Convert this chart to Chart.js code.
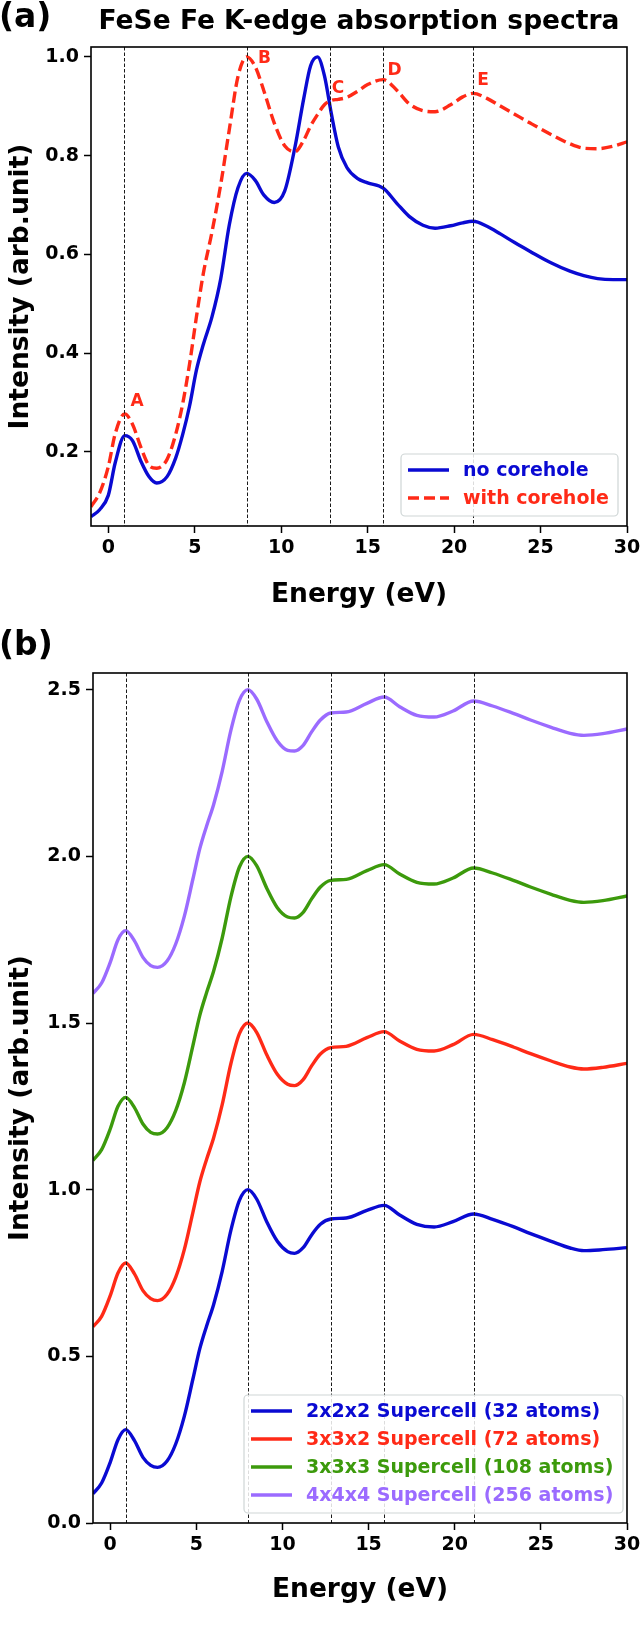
<!DOCTYPE html>
<html>
<head>
<meta charset="utf-8">
<title>FeSe Fe K-edge absorption spectra</title>
<script src="https://cdn.jsdelivr.net/npm/chart.js@4.4.1/dist/chart.umd.min.js"></script>
<style>
  body { margin: 0; background: #fff; }
  canvas { position: absolute; left: 0; }
  #chartA { top: 0; }
  #chartB { top: 620px; }
</style>
</head>
<body>
<canvas id="chartA" width="640" height="620"></canvas>
<canvas id="chartB" width="640" height="1014"></canvas>
<script>
// ---- panel (a): corehole comparison ----
const energyA = [-1, -0.5, 0, 0.4, 0.95, 1.4, 1.9, 2.35, 2.8, 3.4, 3.9, 4.3, 4.7, 5.1, 5.5, 6.0, 6.5, 7.0, 7.5, 8.0,
  8.5, 9.0, 9.6, 10.2, 10.8, 11.3, 11.7, 12.1, 12.5, 12.9, 13.3, 13.8, 14.4, 15.0, 15.9, 16.7, 17.4, 18.2, 18.9,
  19.8, 20.5, 21.1, 21.9, 22.7, 23.5, 24.4, 25.6, 26.7, 27.5, 28.3, 29.2, 30];
const noCorehole = [0.069, 0.083, 0.112, 0.178, 0.233, 0.223, 0.180, 0.150, 0.137, 0.150, 0.188, 0.235, 0.293, 0.366,
  0.418, 0.474, 0.550, 0.660, 0.735, 0.764, 0.750, 0.720, 0.705, 0.728, 0.818, 0.915, 0.982, 1.000, 0.962, 0.885,
  0.818, 0.776, 0.754, 0.745, 0.734, 0.703, 0.677, 0.659, 0.653, 0.658, 0.664, 0.667, 0.657, 0.641, 0.624, 0.606,
  0.583, 0.566, 0.557, 0.551, 0.549, 0.549];
const withCorehole = [0.089, 0.117, 0.170, 0.237, 0.277, 0.256, 0.208, 0.173, 0.167, 0.185, 0.236, 0.297, 0.378, 0.474,
  0.562, 0.646, 0.741, 0.853, 0.960, 1.000, 0.980, 0.931, 0.866, 0.820, 0.808, 0.831, 0.860, 0.883, 0.903, 0.912,
  0.914, 0.918, 0.930, 0.944, 0.954, 0.932, 0.905, 0.891, 0.889, 0.903, 0.919, 0.926, 0.916, 0.900, 0.884, 0.866,
  0.843, 0.824, 0.815, 0.814, 0.819, 0.828];
const seriesA = ['no corehole', 'with corehole'];
const peakLetters = ['A', 'B', 'C', 'D', 'E'];
const peakLetterX = [1.66, 9.03, 13.29, 16.56, 21.67];
const peakLetterY = [0.302, 0.997, 0.936, 0.972, 0.951];
const yTicksA = [0.2, 0.4, 0.6, 0.8, 1.0];

// ---- panel (b): supercell size comparison ----
const energyB = [-1, -0.5, 0, 0.45, 0.9, 1.4, 1.9, 2.35, 2.75, 3.3, 3.8, 4.3, 4.8, 5.2, 5.6, 6.0, 6.5, 7.0, 7.5, 8.0,
  8.5, 9.1, 9.7, 10.3, 10.7, 11.2, 11.7, 12.2, 12.8, 13.7, 14.9, 15.9, 16.8, 17.8, 18.8, 19.9, 21.1, 22.2, 23.4,
  24.4, 25.6, 26.7, 27.5, 28.6, 30];
const cell222 = [0.088, 0.120, 0.182, 0.250, 0.280, 0.248, 0.197, 0.173, 0.167, 0.186, 0.237, 0.320, 0.432, 0.523,
  0.592, 0.655, 0.755, 0.877, 0.968, 1.000, 0.972, 0.902, 0.845, 0.814, 0.809, 0.826, 0.865, 0.896, 0.912, 0.915,
  0.938, 0.953, 0.924, 0.896, 0.888, 0.904, 0.927, 0.911, 0.889, 0.868, 0.845, 0.825, 0.817, 0.820, 0.826];
const cell332 = [0.589, 0.620, 0.682, 0.750, 0.780, 0.748, 0.697, 0.673, 0.667, 0.686, 0.737, 0.820, 0.932, 1.023,
  1.092, 1.155, 1.255, 1.377, 1.468, 1.500, 1.472, 1.403, 1.346, 1.316, 1.312, 1.330, 1.372, 1.407, 1.426, 1.430,
  1.456, 1.474, 1.446, 1.421, 1.416, 1.435, 1.466, 1.450, 1.428, 1.408, 1.386, 1.368, 1.362, 1.367, 1.379];
const cell333 = [1.088, 1.120, 1.182, 1.250, 1.277, 1.247, 1.197, 1.172, 1.167, 1.186, 1.237, 1.320, 1.432, 1.523,
  1.592, 1.655, 1.755, 1.877, 1.968, 2.000, 1.972, 1.903, 1.846, 1.818, 1.815, 1.832, 1.873, 1.908, 1.928, 1.931,
  1.957, 1.975, 1.947, 1.922, 1.917, 1.935, 1.965, 1.950, 1.928, 1.908, 1.886, 1.868, 1.862, 1.867, 1.881];
const cell444 = [1.589, 1.620, 1.682, 1.750, 1.777, 1.747, 1.697, 1.672, 1.667, 1.686, 1.737, 1.820, 1.932, 2.023,
  2.092, 2.155, 2.255, 2.377, 2.468, 2.500, 2.472, 2.403, 2.346, 2.318, 2.316, 2.333, 2.374, 2.409, 2.430, 2.433,
  2.459, 2.478, 2.449, 2.423, 2.418, 2.436, 2.466, 2.451, 2.429, 2.409, 2.387, 2.369, 2.363, 2.368, 2.382];
const seriesB = ['2x2x2 Supercell (32 atoms)', '3x3x2 Supercell (72 atoms)',
  '3x3x3 Supercell (108 atoms)', '4x4x4 Supercell (256 atoms)'];
const yTicksB = [0.0, 0.5, 1.0, 1.5, 2.0, 2.5];

// shared
const edgeMarkers = [0.9, 8.0, 12.8, 15.9, 21.1];
const xTicks = [0, 5, 10, 15, 20, 25, 30];

const FONT = '"DejaVu Sans", "Liberation Sans", sans-serif';
const BLUE = '#0a0ad2';
const RED = '#ff2a17';
const GREEN = '#3c9a0c';
const PURPLE = '#9b6bff';

const toPoints = (xs, ys) => xs.map((x, i) => ({ x: x, y: ys[i] }));

// dashed markers, frame, peak letters, legend and panel titles
const panelDecor = {
  id: 'panelDecor',
  afterDraw(chart, args, opts) {
    const ctx = chart.ctx;
    const { left, right, top, bottom } = chart.chartArea;
    const xs = chart.scales.x, ys = chart.scales.y;
    ctx.save();

    ctx.strokeStyle = '#1a1a1a';
    ctx.lineWidth = 1;
    ctx.setLineDash([3.5, 2]);
    opts.markers.forEach(e => {
      const px = Math.round(xs.getPixelForValue(e)) + 0.5;
      ctx.beginPath();
      ctx.moveTo(px, top);
      ctx.lineTo(px, bottom);
      ctx.stroke();
    });
    ctx.setLineDash([]);

    if (opts.letters) {
      ctx.fillStyle = RED;
      ctx.font = 'bold 17px ' + FONT;
      ctx.textAlign = 'center';
      ctx.textBaseline = 'middle';
      opts.letters.text.forEach((t, i) => {
        ctx.fillText(t, xs.getPixelForValue(opts.letters.x[i]), ys.getPixelForValue(opts.letters.y[i]));
      });
    }

    ctx.strokeStyle = '#000';
    ctx.lineWidth = 1.6;
    ctx.strokeRect(left, top, right - left, bottom - top);

    // legend
    const lb = opts.legend;
    ctx.fillStyle = 'rgba(255,255,255,0.85)';
    ctx.strokeStyle = '#cfd6d6';
    ctx.lineWidth = 1.2;
    ctx.beginPath();
    ctx.roundRect(lb.x, lb.y, lb.w, lb.h, 4);
    ctx.fill();
    ctx.stroke();
    ctx.font = 'bold 19px ' + FONT;
    ctx.textAlign = 'left';
    ctx.textBaseline = 'middle';
    chart.data.datasets.forEach((ds, i) => {
      const ry = lb.y + 16 + i * 28;
      ctx.strokeStyle = ds.borderColor;
      ctx.lineWidth = ds.borderWidth;
      ctx.setLineDash(ds.borderDash || []);
      ctx.beginPath();
      ctx.moveTo(lb.x + 7, ry);
      ctx.lineTo(lb.x + 48, ry);
      ctx.stroke();
      ctx.setLineDash([]);
      ctx.fillStyle = ds.borderColor;
      ctx.fillText(ds.label, lb.x + 62, ry + 1);
    });

    // panel label and title
    ctx.fillStyle = '#000';
    ctx.font = 'bold 33px ' + FONT;
    ctx.fillText(opts.panel, -1, opts.panelY);
    if (opts.title) {
      ctx.font = 'bold 26.5px ' + FONT;
      ctx.textAlign = 'center';
      ctx.fillText(opts.title, (left + right) / 2, 22);
    }
    ctx.restore();
  }
};

function axes(yMin, yMax, yTicks, yWidth, xHeight) {
  const tickFont = { family: FONT, size: 19, weight: 'bold' };
  const titleFont = { family: FONT, size: 26.5, weight: 'bold', lineHeight: 1.2 };
  const grid = { display: true, drawOnChartArea: false, drawTicks: true, tickLength: 7, tickColor: '#000', tickWidth: 1.5 };
  return {
    x: {
      type: 'linear', min: -1, max: 30,
      grid: grid, border: { display: false },
      afterBuildTicks: s => { s.ticks = xTicks.map(v => ({ value: v })); },
      afterFit: s => { s.height = xHeight; s.paddingLeft = 0; s.paddingRight = 0; },
      ticks: { font: tickFont, color: '#000', padding: 4, maxRotation: 0, callback: v => String(v) },
      title: { display: true, text: 'Energy (eV)', font: titleFont, color: '#000', padding: { top: 0, bottom: 4 } }
    },
    y: {
      type: 'linear', min: yMin, max: yMax,
      grid: grid, border: { display: false },
      afterBuildTicks: s => { s.ticks = yTicks.map(v => ({ value: v })); },
      afterFit: s => { s.width = yWidth; s.paddingTop = 0; s.paddingBottom = 0; },
      ticks: { font: tickFont, color: '#000', padding: 5, callback: v => v.toFixed(1) },
      title: { display: true, text: 'Intensity (arb.unit)', font: titleFont, color: '#000', padding: { top: 5.5, bottom: 0 } }
    }
  };
}

function lineSet(label, xs, ys, color, order, dash) {
  return {
    label: label, data: toPoints(xs, ys), borderColor: color, backgroundColor: color,
    borderWidth: 3.4, borderDash: dash, pointRadius: 0, fill: false,
    cubicInterpolationMode: 'monotone', order: order
  };
}

new Chart(document.getElementById('chartA'), {
  type: 'line',
  data: {
    datasets: [
      lineSet(seriesA[0], energyA, noCorehole, BLUE, 1),
      lineSet(seriesA[1], energyA, withCorehole, RED, 0, [11, 5])
    ]
  },
  options: {
    responsive: false, animation: false,
    layout: { padding: { left: 0, right: 13, top: 47, bottom: 5 } },
    scales: axes(0.05, 1.02, yTicksA, 91, 89),
    plugins: {
      legend: { display: false }, tooltip: { enabled: false },
      panelDecor: {
        markers: edgeMarkers, panel: '(a)', panelY: 18,
        title: 'FeSe Fe K-edge absorption spectra',
        letters: { text: peakLetters, x: peakLetterX, y: peakLetterY },
        legend: { x: 401, y: 454, w: 217, h: 62 }
      }
    }
  },
  plugins: [panelDecor]
});

new Chart(document.getElementById('chartB'), {
  type: 'line',
  data: {
    datasets: [
      lineSet(seriesB[0], energyB, cell222, BLUE, 3),
      lineSet(seriesB[1], energyB, cell332, RED, 2),
      lineSet(seriesB[2], energyB, cell333, GREEN, 1),
      lineSet(seriesB[3], energyB, cell444, PURPLE, 0)
    ]
  },
  options: {
    responsive: false, animation: false,
    layout: { padding: { left: 0, right: 13, top: 53, bottom: 24 } },
    scales: axes(0, 2.55, yTicksB, 93, 87),
    plugins: {
      legend: { display: false }, tooltip: { enabled: false },
      panelDecor: {
        markers: edgeMarkers, panel: '(b)', panelY: 26,
        legend: { x: 244, y: 775, w: 379, h: 118 }
      }
    }
  },
  plugins: [panelDecor]
});
</script>
</body>
</html>
